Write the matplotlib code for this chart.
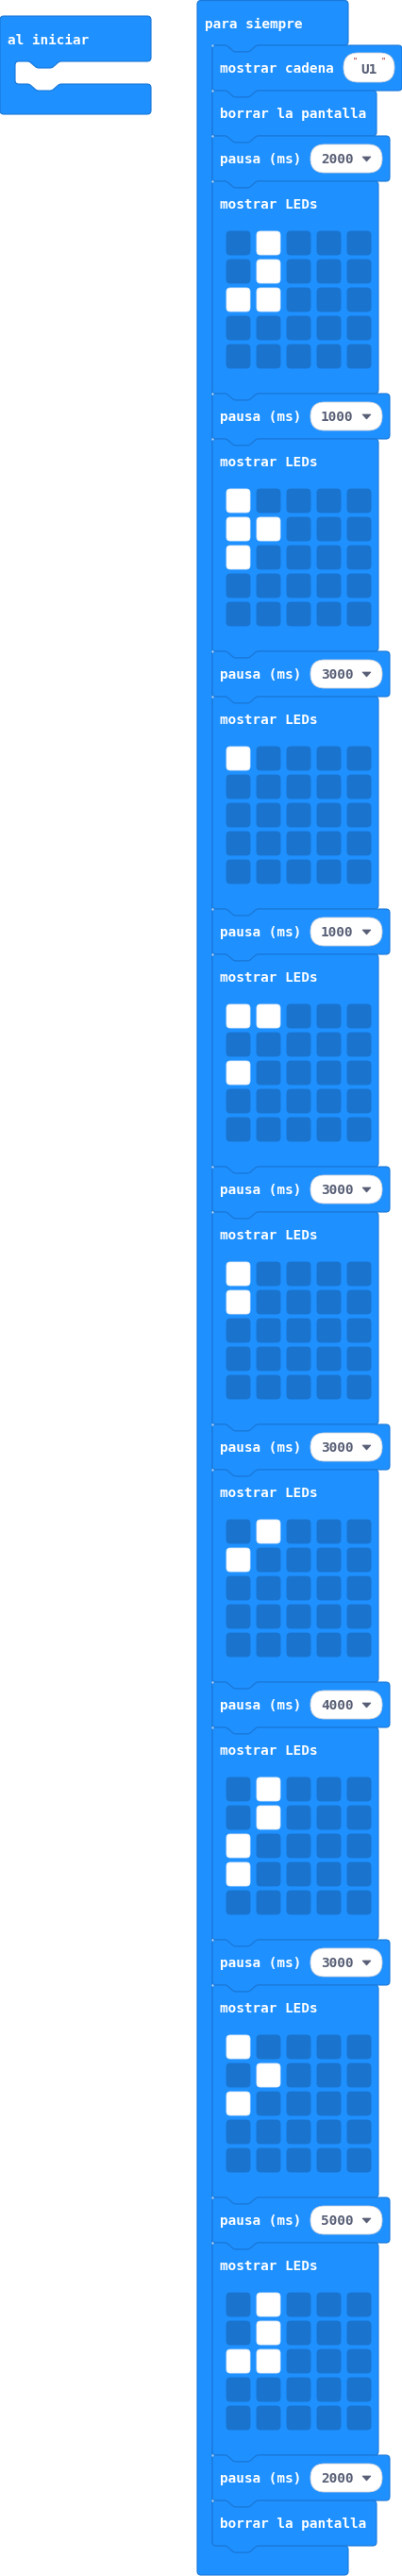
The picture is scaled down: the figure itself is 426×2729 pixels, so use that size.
import numpy as np
import matplotlib.pyplot as plt
from matplotlib.path import Path
from matplotlib.patches import PathPatch, FancyBboxPatch, Polygon

# Datos del programa (bloques de MakeCode)
cadena = "U1"
pausas = [2000, 1000, 3000, 1000, 3000, 3000, 4000, 3000, 5000, 2000]
patrones_leds = [
    "01000 01000 11000 00000 00000",
    "10000 11000 10000 00000 00000",
    "10000 00000 00000 00000 00000",
    "11000 00000 10000 00000 00000",
    "10000 10000 00000 00000 00000",
    "01000 10000 00000 00000 00000",
    "01000 01000 10000 10000 00000",
    "10000 01000 10000 00000 00000",
    "01000 01000 11000 00000 00000",
]

AZUL = "#1e90ff"
BORDE = "#1a78d8"
LED_APAGADO = "#1a73cc"
GRIS = "#575e75"
FUENTE = "DejaVu Sans Mono"
TAM = 10.4


def camino_redondeado(puntos, radios):
    verts = []
    codes = []
    n = len(puntos)
    for i in range(n):
        p0 = np.array(puntos[i - 1], float)
        p1 = np.array(puntos[i], float)
        p2 = np.array(puntos[(i + 1) % n], float)
        d0 = p0 - p1
        d2 = p2 - p1
        l0 = np.linalg.norm(d0)
        l2 = np.linalg.norm(d2)
        r = radios[i]
        a = p1 + d0 / l0 * min(r, l0 / 2)
        b = p1 + d2 / l2 * min(r, l2 / 2)
        verts.append(a)
        codes.append(Path.MOVETO if i == 0 else Path.LINETO)
        verts += [p1, b]
        codes += [Path.CURVE3, Path.CURVE3]
    verts.append(verts[0])
    codes.append(Path.CLOSEPOLY)
    return Path(verts, codes)


def muesca_derecha(x0, y):
    return [(x0 + 15, y), (x0 + 23, y + 7), (x0 + 39, y + 7), (x0 + 47, y)]


def muesca_izquierda(x0, y):
    return [(x0 + 47, y), (x0 + 39, y + 7), (x0 + 23, y + 7), (x0 + 15, y)]


def dibujar_forma(ax, puntos, radios):
    ax.add_patch(PathPatch(camino_redondeado(puntos, radios),
                           facecolor=AZUL, edgecolor=BORDE, lw=0.8))


def bloque_simple(ax, izq, arriba, der, abajo):
    puntos = [(izq, arriba)] + muesca_derecha(izq, arriba) + \
        [(der, arriba), (der, abajo)] + muesca_izquierda(izq, abajo) + \
        [(izq, abajo)]
    radios = [4] + [2] * 4 + [4, 4] + [2] * 4 + [4]
    dibujar_forma(ax, puntos, radios)
    ax.plot(izq, arriba, marker="o", ms=1.6, color="#b8d4f0", mec="none")


def bloque_c(ax, izq, arriba, der, cab, interior, fondo_arriba, abajo):
    puntos = [(izq, arriba), (der, arriba), (der, cab)] + \
        muesca_izquierda(interior, cab) + \
        [(interior, cab), (interior, fondo_arriba)] + \
        muesca_derecha(interior, fondo_arriba) + \
        [(der, fondo_arriba), (der, abajo), (izq, abajo)]
    radios = [4, 4, 4] + [2] * 4 + [4, 4] + [2] * 4 + [4, 4, 4]
    dibujar_forma(ax, puntos, radios)


def texto(ax, x, y, s, color="white", **kw):
    ax.text(x, y, s, color=color, fontsize=TAM, fontfamily=FUENTE,
            fontweight="bold", va="baseline", **kw)


def pastilla(ax, x0, x1, y0, y1):
    alto = y1 - y0
    ax.add_patch(FancyBboxPatch((x0, y0), x1 - x0, alto,
                                boxstyle=f"round,pad=0,rounding_size={alto / 2}",
                                facecolor="white", edgecolor="#d0d4dc", lw=0.6))


def bloque_pausa(ax, y, valor):
    bloque_simple(ax, 225, y, 413, y + 48)
    texto(ax, 233, y + 29, "pausa (ms)")
    pastilla(ax, 329, 405, y + 9, y + 39)
    texto(ax, 340, y + 29, str(valor), color=GRIS)
    ax.add_patch(Polygon([(384, y + 22), (393, y + 22), (388.5, y + 27)],
                         closed=True, facecolor=GRIS, edgecolor=GRIS, lw=0.5))


def bloque_leds(ax, y, patron):
    bloque_simple(ax, 225, y, 401, y + 225)
    texto(ax, 233, y + 29, "mostrar LEDs")
    filas = patron.split()
    for f, fila in enumerate(filas):
        for c, valor in enumerate(fila):
            encendido = valor == "1"
            ax.add_patch(FancyBboxPatch(
                (240 + 32 * c, y + 53 + 30 * f), 25, 25,
                boxstyle="round,pad=0,rounding_size=4",
                facecolor="white" if encendido else LED_APAGADO,
                edgecolor="#e4ecf6" if encendido else LED_APAGADO, lw=0.6))


fig = plt.figure(figsize=(4.27, 27.29), dpi=100)
ax = fig.add_axes([0, 0, 1, 1])
ax.set_xlim(0, 427)
ax.set_ylim(2729, 0)
ax.axis("off")

# al iniciar
bloque_c(ax, 0, 17, 160, 65, 16, 89, 121)
texto(ax, 8, 47, "al iniciar")

# para siempre
alto_total = 48 * 3 + 225 * len(patrones_leds) + 48 * (len(pausas) - 1) + 48
fondo = 48 + alto_total
bloque_c(ax, 209, 0.5, 369, 48, 225, fondo, fondo + 31)
texto(ax, 217, 30, "para siempre")

y = 48
bloque_simple(ax, 225, y, 426, y + 48)
texto(ax, 233, y + 29, "mostrar cadena")
pastilla(ax, 364, 418, y + 8, y + 39)
texto(ax, 391, y + 30, cadena, color=GRIS, ha="center")
ax.text(376, y + 17, "\"", color="#a31515", fontsize=6, fontfamily=FUENTE,
        ha="center", va="center")
ax.text(406, y + 17, "\"", color="#a31515", fontsize=6, fontfamily=FUENTE,
        ha="center", va="center")
y += 48

bloque_simple(ax, 225, y, 399, y + 48)
texto(ax, 233, y + 29, "borrar la pantalla")
y += 48

bloque_pausa(ax, y, pausas[0])
y += 48
for i, patron in enumerate(patrones_leds):
    bloque_leds(ax, y, patron)
    y += 225
    bloque_pausa(ax, y, pausas[i + 1])
    y += 48

bloque_simple(ax, 225, y, 399, y + 48)
texto(ax, 233, y + 29, "borrar la pantalla")

fig.savefig("out.png", dpi=100)
